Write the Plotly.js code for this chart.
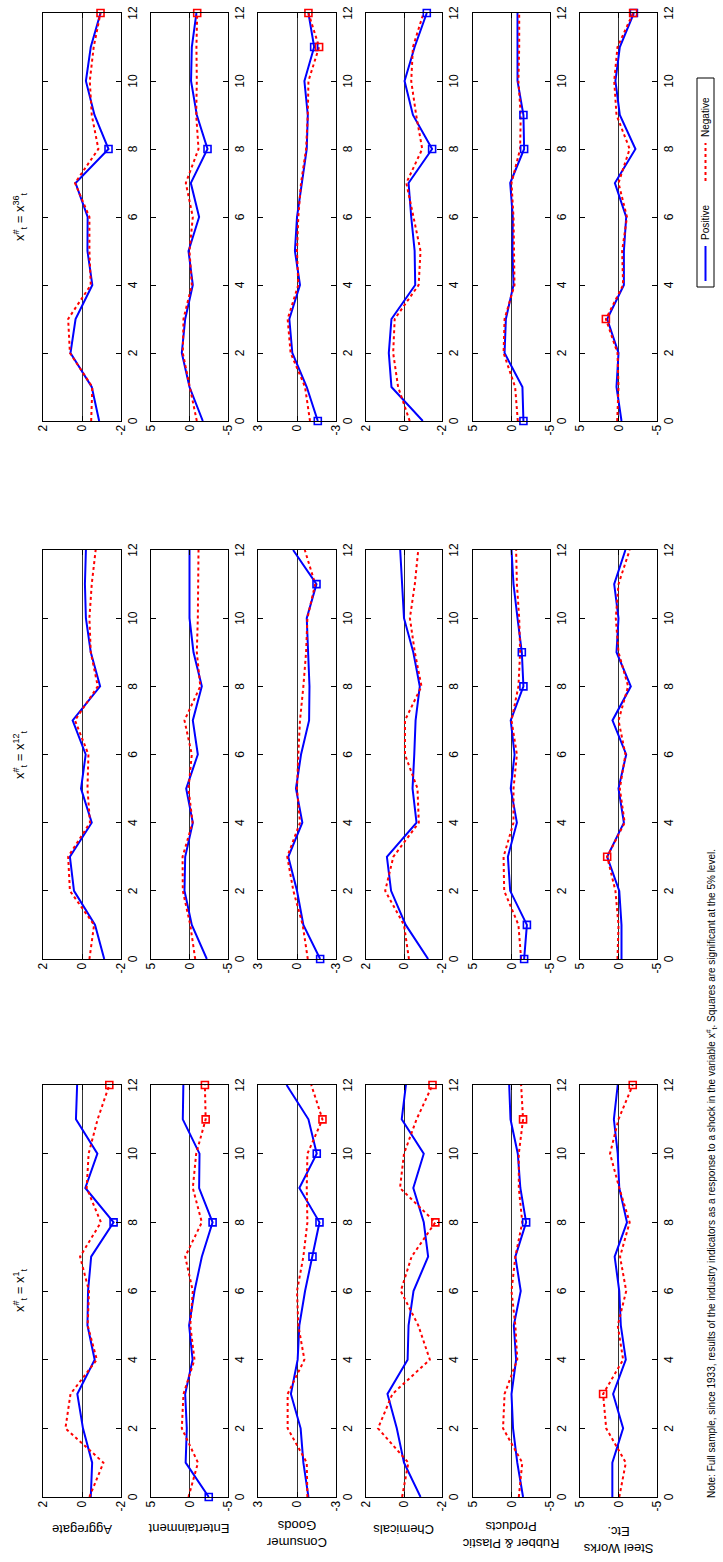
<!DOCTYPE html>
<html>
<head>
<meta charset="utf-8">
<script src="https://cdn.plot.ly/plotly-3.0.1.min.js"></script>
<style>
html, body { margin:0; padding:0; background:#fff; }
body { width:723px; height:1562px; overflow:hidden; position:relative; }
#wrap { position:absolute; left:0; top:0; width:1562px; height:723px;
  transform-origin:0 0; transform: translate(0px,1562px) rotate(-90deg); }
</style>
</head>
<body>
<div id="wrap"></div>
<script>
// ---------------- DATA ----------------
const lags = [0,1,2,3,4,5,6,7,8,9,10,11,12];
const xTicks = [0,2,4,6,8,10,12];
const industries = ["Aggregate","Entertainment","Consumer<br>Goods","Chemicals","Rubber & Plastic<br>Products","Steel Works<br>Etc."];
const horizons = ["1","12","36"];
const yLimits = [2,5,3,2,5,5];

// x# = x1
const posH1 = [
  [-0.45,-0.52,-0.05,0.24,-0.65,-0.28,-0.31,-0.47,-1.62,-0.17,-0.79,0.31,0.25],
  [-2.5,0.5,0.35,0.56,-0.4,0.05,-0.65,-1.6,-3.0,-1.25,-1.3,0.87,0.8],
  [-0.88,-0.49,-0.28,0.47,-0.05,-0.18,-0.62,-1.19,-1.73,-0.18,-1.52,-0.88,0.8],
  [-0.87,0,0.38,0.87,-0.19,-0.24,-0.5,-1.27,-1.04,-0.49,-1.04,0.12,-0.1],
  [-1.5,-0.75,-0.2,0,-0.6,-0.3,-1.2,-0.5,-1.9,-1.15,-0.82,0.13,0.3],
  [0.8,0.8,-0.6,0.7,-0.95,-0.3,-0.1,0.5,-1.1,-0.1,0.1,0.6,0.1]
];
const negH1 = [
  [-0.38,-1.1,0.85,0.59,-0.76,-0.29,-0.36,0.1,-0.97,-0.24,-0.34,-0.8,-1.4],
  [0.13,-1.1,1.0,0.78,-0.65,-0.1,-0.43,0.56,-1.6,-0.43,-0.87,-2.1,-2.0],
  [-0.8,-0.75,0.72,0.72,-0.57,-0.1,0,-0.49,-0.8,-0.75,-0.8,-1.96,-1.1],
  [0.1,-0.23,1.37,0.61,-1.36,-0.75,0.17,-0.4,-1.65,0.21,0,-0.66,-1.5],
  [-0.95,-1.4,1.1,0.9,-0.75,-0.5,0,-0.5,-1.4,-0.95,-0.95,-1.5,-1.25],
  [-0.1,-0.95,1.6,2.0,-0.6,0.1,-1.0,-0.2,-1.45,-0.1,1.1,0,-1.85]
];
// x# = x12
const posH12 = [
  [-1.14,-0.67,0.41,0.62,-0.5,0.05,-0.19,0.48,-0.93,-0.45,-0.2,-0.15,-0.2],
  [-2.25,-0.3,0.65,0.56,-0.43,0.43,-1.08,-0.43,-1.6,-0.52,0,0,0],
  [-1.78,-0.49,0,0.67,-0.41,0.08,-0.31,-0.93,-0.96,-0.88,-0.75,-1.5,0.3],
  [-1.27,-0.09,0.68,0.9,-0.66,-0.45,-0.54,-0.61,-0.83,-0.49,0,0.1,0.2],
  [-1.64,-2.0,0.17,0.47,-0.7,0.1,-0.4,0.1,-1.55,-1.34,-0.78,-0.26,0],
  [-0.39,-0.39,-0.1,1.47,-0.7,0,-1.0,0.78,-1.6,0.26,0,0.56,-0.9]
];
const negH12 = [
  [-0.38,-0.62,0.62,0.71,-0.41,-0.28,-0.33,0.36,-0.81,-0.45,-0.38,-0.5,-0.7],
  [-0.74,-0.1,0.87,0.9,-0.4,0.13,-0.3,0.65,-1.4,-0.95,-1.08,-1.17,-1.17],
  [-0.83,-0.44,0.28,0.75,-0.23,0,-0.1,-0.23,-0.49,-0.7,-0.8,-1.4,-0.6],
  [-0.26,0,0.99,0.56,-0.78,-0.71,-0.05,-0.05,-0.92,-0.57,-0.31,-0.57,-0.75],
  [-1.25,-0.9,0.95,1.03,-0.26,-0.26,-0.7,0,-0.9,-1.12,-1.0,-0.7,-0.6],
  [0.13,0,0.4,1.47,-0.8,-0.17,-0.9,0,-1.25,0,0.35,0,-1.45]
];
// x# = x36
const posH36 = [
  [-0.88,-0.5,0.59,0.33,-0.53,-0.28,-0.29,0.33,-1.36,-0.64,-0.2,-0.45,-0.95],
  [-1.73,0,1.0,0.56,-0.43,0.13,-1.25,-0.17,-2.34,-0.95,-0.2,-0.3,-0.9],
  [-1.6,-0.75,0.36,0.59,-0.23,0.16,0,-0.36,-0.75,-0.83,-0.57,-1.32,-0.88],
  [-0.99,0.66,0.8,0.66,-0.59,-0.56,-0.38,-0.24,-1.48,-0.47,-0.03,-0.56,-1.2],
  [-1.55,-1.42,0.9,0.73,-0.26,-0.13,-0.17,0.17,-1.64,-1.55,-0.78,-0.78,-0.78],
  [-0.39,0.26,0,1.47,-0.7,-0.7,-1.0,0.47,-2.2,-0.17,0.4,-0.17,-2.0]
];
const negH36 = [
  [-0.47,-0.53,0.62,0.71,-0.45,-0.38,-0.38,0.36,-0.84,-0.5,-0.4,-0.6,-0.95],
  [-0.95,0,0.87,0.78,-0.3,0,-0.43,0.48,-1.17,-0.87,-0.95,-0.9,-1.0],
  [-1.0,-0.62,0.49,0.72,-0.1,0,-0.1,-0.31,-0.7,-0.83,-0.88,-1.7,-0.88],
  [-0.3,0.31,0.57,0.49,-0.77,-0.87,-0.5,-0.12,-0.96,-0.64,-0.38,-0.47,-1.03],
  [-0.82,-0.47,1.03,0.9,-0.39,-0.34,-0.26,0,-1.12,-1.2,-0.9,-1.0,-1.0],
  [0.17,0,0.13,1.64,-0.6,-0.47,-1.1,0,-1.45,0.26,0.56,0.13,-1.9]
];
// significant lags (squares)
const sigPosH1 = [[8],[0,8],[7,8,10],[],[8],[]];
const sigNegH1 = [[12],[11,12],[11],[8,12],[11],[3,12]];
const sigPosH12 = [[],[],[0,11],[],[0,1,8,9],[]];
const sigNegH12 = [[],[],[],[],[],[3]];
const sigPosH36 = [[8],[8],[0,11],[8,12],[0,8,9],[12]];
const sigNegH36 = [[12],[12],[11,12],[],[],[3,12]];

const legendNames = ["Positive","Negative"];
const noteText = "Note: Full sample, since 1933, results of the industry indicators as a response to a shock in the variable x<sup>#</sup><sub>t</sub>. Squares are significant at the 5% level.";

// ---------------- LAYOUT ----------------
const W = 1562, H = 723;
const colPx = [[65,477],[603,1012],[1141,1549]];
const rowPx = [[43,121],[151,228],[258,336],[366,442],[473,550],[580,657]];
const labelX = [32,34,28,32,27,22];
const FONT = "Liberation Sans, Arial, Helvetica, sans-serif";
const BLUE = "rgb(0,0,255)", RED = "rgb(255,0,0)";

const posAll = [posH1,posH12,posH36];
const negAll = [negH1,negH12,negH36];
const sigPosAll = [sigPosH1,sigPosH12,sigPosH36];
const sigNegAll = [sigNegH1,sigNegH12,sigNegH36];

const traces = [];
const layout = {
  width: W, height: H,
  margin: {l:0,r:0,t:0,b:0},
  paper_bgcolor: "#fff", plot_bgcolor: "#fff",
  font: {family: FONT, size: 12, color: "#000"},
  showlegend: false,
  annotations: [],
  shapes: []
};

for (let r = 0; r < 6; r++) {
  for (let c = 0; c < 3; c++) {
    const idx = r*3 + c + 1;
    const xa = idx === 1 ? "x" : "x"+idx;
    const ya = idx === 1 ? "y" : "y"+idx;
    const xk = idx === 1 ? "xaxis" : "xaxis"+idx;
    const yk = idx === 1 ? "yaxis" : "yaxis"+idx;
    const lim = yLimits[r];
    layout[xk] = {
      domain: [colPx[c][0]/W, colPx[c][1]/W], anchor: ya,
      range: [0,12], tickvals: xTicks, ticktext: xTicks.map(String),
      ticks: "inside", ticklen: 5, tickwidth: 1, tickcolor: "#000",
      showline: true, linecolor: "#000", linewidth: 1.3, mirror: "ticks",
      showgrid: false, zeroline: false,
      tickfont: {family: FONT, size: 12, color:"#000"}
    };
    layout[yk] = {
      domain: [1-rowPx[r][1]/H, 1-rowPx[r][0]/H], anchor: xa,
      range: [-lim, lim], tickvals: [-lim,0,lim], ticktext: ["-"+lim,"0",String(lim)],
      ticks: "inside", ticklen: 5, tickwidth: 1, tickcolor: "#000",
      showline: true, linecolor: "#000", linewidth: 1.3, mirror: "ticks",
      showgrid: false, zeroline: true, zerolinecolor: "#333", zerolinewidth: 1,
      tickfont: {family: FONT, size: 12, color:"#000"}
    };
    const p = posAll[c][r], n = negAll[c][r];
    traces.push({x: lags, y: p, xaxis: xa, yaxis: ya, type:"scatter", mode:"lines",
      name: legendNames[0], line:{color:BLUE, width:2}, cliponaxis:false, hoverinfo:"skip"});
    traces.push({x: lags, y: n, xaxis: xa, yaxis: ya, type:"scatter", mode:"lines",
      name: legendNames[1], line:{color:RED, width:2, dash:"dot"}, cliponaxis:false, hoverinfo:"skip"});
    const sp = sigPosAll[c][r], sn = sigNegAll[c][r];
    if (sp.length) traces.push({x: sp, y: sp.map(i => p[i]), xaxis: xa, yaxis: ya,
      type:"scatter", mode:"markers", cliponaxis:false, hoverinfo:"skip",
      marker:{symbol:"square-open", size:7, color:BLUE, line:{color:BLUE, width:1.6}}});
    if (sn.length) traces.push({x: sn, y: sn.map(i => n[i]), xaxis: xa, yaxis: ya,
      type:"scatter", mode:"markers", cliponaxis:false, hoverinfo:"skip",
      marker:{symbol:"square-open", size:7, color:RED, line:{color:RED, width:1.6}}});
  }
  layout.annotations.push({
    text: industries[r], xref:"paper", yref:"paper",
    x: labelX[r]/W, y: 1 - (rowPx[r][0]+rowPx[r][1])/2/H,
    xanchor:"center", yanchor:"middle", textangle:-90, showarrow:false,
    font:{family:FONT, size:13, color:"#000"}
  });
}
for (let c = 0; c < 3; c++) {
  layout.annotations.push({
    text: "x<sup>#</sup><sub>t</sub> = x<sup>" + horizons[c] + "</sup><sub>t</sub>",
    xref:"paper", yref:"paper",
    x: (colPx[c][0]+colPx[c][1])/2/W, y: 1 - 20/H,
    xanchor:"center", yanchor:"middle", showarrow:false,
    font:{family:FONT, size:13, color:"#000"}
  });
}
layout.annotations.push({
  text: noteText, xref:"paper", yref:"paper",
  x: 62/W, y: 1 - 711/H, xanchor:"left", yanchor:"middle", showarrow:false,
  font:{family:FONT, size:10, color:"#000"}
});

// ---- legend (drawn as a boxed horizontal key) ----
const LG = {x0:1275, x1:1484, y0:697, y1:714};
const py = v => 1 - v/H, px = v => v/W;
const lgMid = (LG.y0+LG.y1)/2;
layout.shapes.push({type:"rect", xref:"paper", yref:"paper",
  x0:px(LG.x0), x1:px(LG.x1), y0:py(LG.y1), y1:py(LG.y0),
  line:{color:"#000", width:1}, fillcolor:"#fff"});
layout.shapes.push({type:"line", xref:"paper", yref:"paper",
  x0:px(1281), x1:px(1316), y0:py(lgMid), y1:py(lgMid), line:{color:BLUE, width:2}});
layout.shapes.push({type:"line", xref:"paper", yref:"paper",
  x0:px(1381), x1:px(1419), y0:py(lgMid), y1:py(lgMid), line:{color:RED, width:2, dash:"dot"}});
layout.annotations.push({text: legendNames[0], xref:"paper", yref:"paper",
  x:px(1320), y:py(lgMid), xanchor:"left", yanchor:"middle", showarrow:false,
  font:{family:FONT, size:10, color:"#000"}});
layout.annotations.push({text: legendNames[1], xref:"paper", yref:"paper",
  x:px(1423), y:py(lgMid), xanchor:"left", yanchor:"middle", showarrow:false,
  font:{family:FONT, size:10, color:"#000"}});

Plotly.newPlot("wrap", traces, layout, {staticPlot:true, displayModeBar:false});
</script>
</body>
</html>
